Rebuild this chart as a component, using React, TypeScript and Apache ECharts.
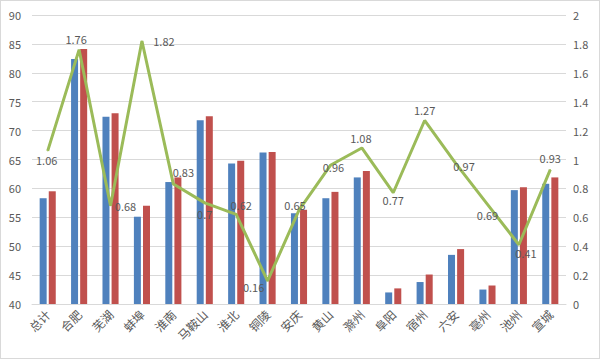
import React, { useEffect, useRef } from "react";
import * as echarts from "echarts";

const categories = ["总计", "合肥", "芜湖", "蚌埠", "淮南", "马鞍山", "淮北", "铜陵", "安庆", "黄山", "滁州", "阜阳", "宿州", "六安", "亳州", "池州", "宣城"];
const seriesA = [58.3, 82.4, 72.4, 55.1, 61.1, 71.8, 64.3, 66.2, 55.7, 58.3, 61.9, 42.0, 43.8, 48.5, 42.5, 59.7, 60.8];
const seriesB = [59.5, 84.1, 73.0, 57.0, 61.9, 72.5, 64.8, 66.3, 56.3, 59.4, 63.0, 42.7, 45.1, 49.5, 43.2, 60.2, 61.9];
const ratio = [1.06, 1.76, 0.68, 1.82, 0.83, 0.7, 0.62, 0.16, 0.65, 0.96, 1.08, 0.77, 1.27, 0.97, 0.69, 0.41, 0.93];
const leftTicks = { min: 40, max: 90, interval: 5 };
const rightTicks = { min: 0, max: 2, interval: 0.2 };

// label placement offsets (style only)
const labelOffsets: [number, number][] = [
  [-1, 9], [-3, -11], [15, 0], [22, 0], [10, -12], [0, 11], [5, -9], [-14, 6], [-4, -5],
  [3, 2], [-1, -10], [0, 7], [0, -10], [8, 2], [0, 11], [7, 8], [0, -12],
];

export default function App() {
  const ref = useRef<HTMLDivElement>(null);
  useEffect(() => {
    document.body.style.margin = "0";
    if (!ref.current) return;
    const chart = echarts.init(ref.current, null, { renderer: "svg" });
    const textColor = "#595959";
    const font = "'Microsoft YaHei', 'Noto Sans CJK SC', 'DejaVu Sans', sans-serif";
    chart.setOption({
      animation: false,
      textStyle: { fontFamily: font },
      grid: { left: 32, right: 34, top: 15, bottom: 55 },
      xAxis: {
        type: "category",
        data: categories,
        axisLine: { lineStyle: { color: "#D9D9D9" } },
        axisTick: { show: false },
        axisLabel: { rotate: 45, color: textColor, fontSize: 12, margin: 8, interval: 0, fontFamily: font },
      },
      yAxis: [
        {
          type: "value",
          min: leftTicks.min,
          max: leftTicks.max,
          interval: leftTicks.interval,
          axisLine: { show: false },
          axisTick: { show: false },
          splitLine: { lineStyle: { color: "#D9D9D9" } },
          axisLabel: { color: textColor, fontSize: 11, margin: 11, fontFamily: font },
        },
        {
          type: "value",
          min: rightTicks.min,
          max: rightTicks.max,
          interval: rightTicks.interval,
          axisLine: { show: false },
          axisTick: { show: false },
          splitLine: { show: false },
          axisLabel: { color: textColor, fontSize: 11, margin: 7, fontFamily: font },
        },
      ],
      series: [
        {
          type: "bar",
          data: seriesA,
          barWidth: 7,
          barGap: "30%",
          itemStyle: { color: "#4F81BD" },
        },
        {
          type: "bar",
          data: seriesB,
          barWidth: 7,
          barGap: "30%",
          itemStyle: { color: "#C0504D" },
        },
        {
          type: "line",
          yAxisIndex: 1,
          data: ratio.map((v, i) => ({
            value: v,
            label: { offset: labelOffsets[i] },
          })),
          symbol: "circle",
          symbolSize: 1,
          showSymbol: true,
          itemStyle: { color: "#9BBB59" },
          lineStyle: { color: "#9BBB59", width: 3 },
          label: {
            show: true,
            position: "inside",
            color: textColor,
            fontSize: 11,
            fontFamily: font,
            formatter: (p: any) => String(p.value),
          },
          z: 5,
        },
      ],
    });
    return () => chart.dispose();
  }, []);
  return (
    <div
      style={{
        position: "relative",
        width: 600,
        height: 359,
        boxSizing: "border-box",
        border: "1px solid #D9D9D9",
        background: "#fff",
      }}
    >
      <div ref={ref} style={{ position: "absolute", left: -1, top: -1, width: 600, height: 359 }} />
    </div>
  );
}
